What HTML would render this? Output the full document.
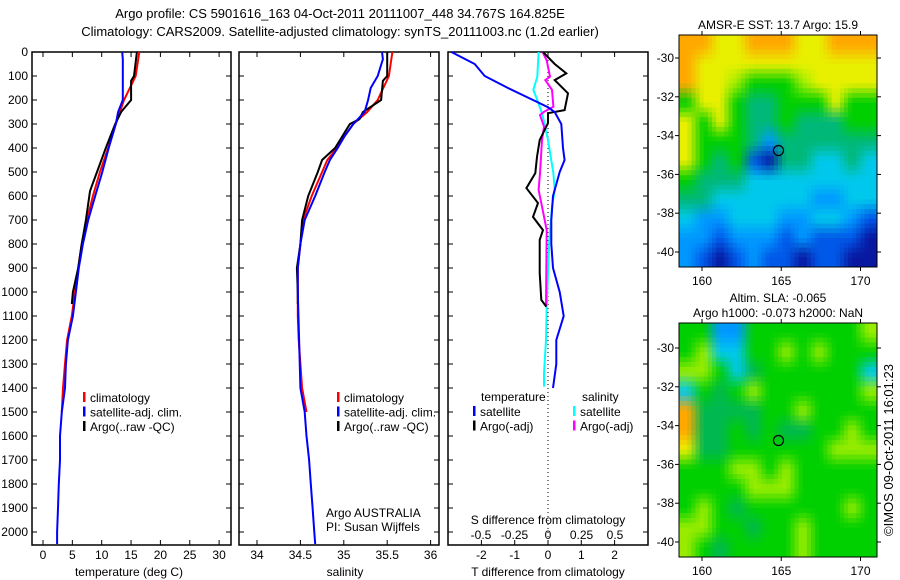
<!DOCTYPE html>
<html><head><meta charset="utf-8"><style>
html,body{margin:0;padding:0;background:#fff;}
svg{display:block;font-family:"Liberation Sans",sans-serif;}
</style></head><body>
<svg id="c" width="900" height="580" xmlns="http://www.w3.org/2000/svg">
<text x="340" y="18" font-size="13" text-anchor="middle">Argo profile: CS 5901616_163 04-Oct-2011 20111007_448 34.767S 164.825E</text>
<text x="340" y="36" font-size="13" text-anchor="middle">Climatology: CARS2009. Satellite-adjusted climatology: synTS_20111003.nc (1.2d earlier)</text>
<g id="g1"></g>
<g id="g2"></g>
<g id="g3"></g>
<g id="m1"></g>
<g id="m2"></g>
<text transform="translate(893,450) rotate(-90)" font-size="13" text-anchor="middle">©IMOS 09-Oct-2011 16:01:23</text>
</svg>
<script>
// ---- data ----
const tClimP=[0,100,200,250,300,400,500,600,700,800,900,1000,1100,1200,1300,1400,1500];
const tClimV=[16.4,15.8,13.8,13.1,12.4,11.1,9.7,8.5,7.5,6.6,6.0,5.45,4.9,4.1,3.75,3.4,3.2];
const tSatP=[0,30,200,250,300,400,500,600,700,800,900,1000,1100,1200,1300,1400,1500,1600,1700,1800,1900,2000,2050];
const tSatV=[13.5,13.6,13.6,12.8,12.4,11.2,10.1,8.9,7.7,6.8,6.1,5.6,5.1,4.25,3.9,3.75,3.2,2.9,2.9,2.7,2.55,2.4,2.4];
const tArgoP=[0,100,120,200,250,300,400,500,560,580,700,800,900,1000,1050];
const tArgoV=[16.0,15.5,15.0,15.0,13.3,12.3,10.7,9.2,8.3,8.0,7.3,6.6,6.0,5.1,4.9];
const sClimP=[0,100,200,250,300,350,400,450,500,600,700,800,900,1000,1100,1200,1300,1400,1500];
const sClimV=[35.56,35.52,35.39,35.27,35.11,35.01,34.92,34.81,34.75,34.63,34.53,34.5,34.47,34.47,34.47,34.48,34.5,34.52,34.57];
const sSatP=[0,30,100,150,200,250,300,350,400,450,500,600,700,800,900,1000,1400,1500,1600,1700,1800,1900,2000,2050];
const sSatV=[35.44,35.45,35.39,35.31,35.28,35.24,35.11,35.01,34.93,34.84,34.78,34.67,34.55,34.5,34.47,34.47,34.5,34.55,34.57,34.6,34.62,34.64,34.66,34.67];
const sArgoP=[0,100,120,200,250,280,300,400,450,500,600,700,800,900,1000,1050];
const sArgoV=[35.5,35.5,35.45,35.43,35.22,35.18,35.07,34.9,34.75,34.7,34.59,34.52,34.5,34.46,34.47,34.47];
const dTsatP=[0,50,100,150,200,230,250,300,400,450,500,600,700,800,900,1000,1100,1200,1300,1400];
const dTsatV=[-2.9,-2.2,-1.9,-1.2,-0.45,0,0.2,0.4,0.45,0.5,0.35,0.15,0.1,0.1,0.15,0.35,0.47,0.25,0.25,0.15];
const dTargoP=[0,50,89,117,172,242,255,296,367,437,505,567,629,687,742,783,921,1033,1061];
const dTargoV=[-0.15,0.2,0.55,0.2,0.6,0.5,0,0,-0.25,-0.33,-0.38,-0.65,-0.3,-0.45,-0.15,-0.25,-0.25,-0.2,-0.05];
const dSsatP=[0,103,158,200,263,367,506,575,644,783,922,1061,1200,1339,1394];
const dSsatV=[-0.07,-0.08,-0.11,-0.08,-0.04,0,0.04,0.05,0.03,0.01,0,-0.01,-0.015,-0.03,-0.03];
const dSargoP=[0,35,103,117,158,228,249,263,311,367,506,575,644,742,1061];
const dSargoV=[-0.04,-0.01,0.015,-0.02,0.03,0.04,-0.03,-0.06,-0.03,-0.045,-0.06,-0.07,-0.045,-0.01,-0.015];
const depthTicks=[0,100,200,300,400,500,600,700,800,900,1000,1100,1200,1300,1400,1500,1600,1700,1800,1900,2000];
const tTicks=[0,5,10,15,20,25,30];
const sTicks=[34,34.5,35,35.5,36];
const dtTicks=[-2,-1,0,1,2];
const dsTicks=[-0.5,-0.25,0,0.25,0.5];
const dsTickLabels=["-0.5","-0.25","0","0.25","0.5"];
const lonTicks=[160,165,170];
const latTicks=[-30,-32,-34,-36,-38,-40];
const sstGrid=["OOYYOOOYYOOO","OYYYYYYYYYYY","OYYLGGGLYYYY","GYYGTTGGGYGG","YGYGTTGTTTGG","YGGGTBTTTTTT","YGTGDNTTCCTC","GTTTCCCCCCCC","TTCCCCCCBBCC","CBBCCCBBCCBD","BBDBBBDBDDDN","BDNDBDDNDDNN"];
const slaGrid=["GGBBGGGGGGGL","GLCCGGLGLGGG","LLGCMGGGGGGC","CGMGLGGGGGGL","OMMMMGGLGGGG","OMMGMGMMGGLG","YMMGGGGGGLLL","GGGLLGLGGGGG","GGGGLLLGGGGG","GLGMGGGGGGLG","LLGGMGGLGGGG","LGMGGGGLGGGG"];
const argoLon=164.825, argoLat=-34.767;

const NS="http://www.w3.org/2000/svg";
function mk(p,tag,at,txt){const e=document.createElementNS(NS,tag);for(const k in at)e.setAttribute(k,at[k]);if(txt!==undefined)e.textContent=txt;p.appendChild(e);return e;}
const y=p=>52+0.24*p;
const xT=v=>43+5.87*v;
const xS=v=>257+86.8*(v-34);
const xDT=v=>548+33.3*v;
const xDS=v=>548+134*v;
const FS=12;

function frame(g,x0,x1,lbl){
  const r=mk(g,'rect',{x:x0,y:52,width:x1-x0,height:493,fill:'none',stroke:'#000','stroke-width':1.5});
  
  depthTicks.forEach(p=>{
    const t=mk(g,'line',{x1:x0,x2:x0+5,y1:y(p),y2:y(p),stroke:'#000'});
    
    const t2=mk(g,'line',{x1:x1-5,x2:x1,y1:y(p),y2:y(p),stroke:'#000'});
    
    if(lbl){const l=mk(g,'text',{x:28,y:y(p)+4,'font-size':FS,'text-anchor':'end'},String(p));
      }
  });
}
function xticks(g,ticks,fx,labels,ly,top){
  ticks.forEach((v,i)=>{
    const t=mk(g,'line',{x1:fx(v),x2:fx(v),y1:545,y2:540,stroke:'#000'});
    
    if(top){const t2=mk(g,'line',{x1:fx(v),x2:fx(v),y1:52,y2:57,stroke:'#000'});
      }
    const l=mk(g,'text',{x:fx(v),y:ly,'font-size':FS,'text-anchor':'middle'},labels?labels[i]:String(v));
    
  });
}
function line(g,P,V,fx,col,name){
  const pts=P.map((p,i)=>fx(V[i]).toFixed(1)+','+y(p).toFixed(1)).join(' ');
  const e=mk(g,'polyline',{points:pts,fill:'none',stroke:col,'stroke-width':2});
  
}
function legend(g,x,y0,items){
  items.forEach((it,i)=>{
    const yy=y0+i*14.5;
    const m=mk(g,'rect',{x:x,y:yy-10,width:2.5,height:10,fill:it[1]});
    
    const t=mk(g,'text',{x:x+7,y:yy,'font-size':FS},it[0]);
    
  });
}
// panel 1
const g1=document.getElementById('g1');
frame(g1,32,231,true);
xticks(g1,tTicks,xT,null,559,true);
mk(g1,'text',{x:129,y:576,'font-size':FS,'text-anchor':'middle',},'temperature (deg C)');
line(g1,tClimP,tClimV,xT,'#f00','climatology-temp-line');
line(g1,tArgoP,tArgoV,xT,'#000','argo-temp-line');
line(g1,tSatP,tSatV,xT,'#00f','satellite-temp-line');
legend(g1,83,402,[['climatology','#f00'],['satellite-adj. clim.','#00f'],['Argo(..raw -QC)','#000']]);
// panel 2
const g2=document.getElementById('g2');
frame(g2,239,439,false);
xticks(g2,sTicks,xS,null,559,true);
mk(g2,'text',{x:345,y:576,'font-size':FS,'text-anchor':'middle',},'salinity');
line(g2,sClimP,sClimV,xS,'#f00','climatology-salinity-line');
line(g2,sArgoP,sArgoV,xS,'#000','argo-salinity-line');
line(g2,sSatP,sSatV,xS,'#00f','satellite-salinity-line');
legend(g2,337,402,[['climatology','#f00'],['satellite-adj. clim.','#00f'],['Argo(..raw -QC)','#000']]);
mk(g2,'text',{x:326,y:517,'font-size':FS,},'Argo AUSTRALIA');
mk(g2,'text',{x:326,y:531,'font-size':FS,},'PI: Susan Wijffels');
// panel 3
const g3=document.getElementById('g3');
frame(g3,448,648,false);
xticks(g3,dtTicks,xDT,null,559,true);
dsTicks.forEach((v,i)=>{
  const l=mk(g3,'text',{x:xDS(v),y:539,'font-size':FS,'text-anchor':'middle'},dsTickLabels[i]);
  
});
mk(g3,'text',{x:548,y:524,'font-size':FS,'text-anchor':'middle',},'S difference from climatology');
mk(g3,'text',{x:548,y:576,'font-size':FS,'text-anchor':'middle',},'T difference from climatology');
mk(g3,'line',{x1:548,x2:548,y1:52,y2:545,stroke:'#000','stroke-dasharray':'1,3',});
line(g3,dSsatP,dSsatV,xDS,'#0ff','satellite-s-diff-line');
line(g3,dSargoP,dSargoV,xDS,'#f0f','argo-s-diff-line');
line(g3,dTargoP,dTargoV,xDT,'#000','argo-t-diff-line');
line(g3,dTsatP,dTsatV,xDT,'#00f','satellite-t-diff-line');
mk(g3,'text',{x:481,y:401,'font-size':FS,},'temperature');
mk(g3,'text',{x:582,y:401,'font-size':FS,},'salinity');
legend(g3,473,416,[['satellite','#00f'],['Argo(-adj)','#000']]);
legend(g3,573,416,[['satellite','#0ff'],['Argo(-adj)','#f0f']]);
// maps
const mcol={O:[255,168,0],Y:[232,240,0],L:[152,236,0],G:[0,208,0],T:[0,184,120],C:[0,200,236],B:[0,152,255],D:[0,88,232],N:[8,24,160],M:[0,184,80]};
function map(id,grid,top,bot,title){
  const g=document.getElementById(id);
  const x0=679,x1=877,lonX=v=>702+15.85*(v-160);
  const ly=v=> (id==='m1'? 58+19.4*(-30-v) : 348+19.4*(-30-v));
  const rows=grid.length,cols=grid[0].length,S=4;
  const R=rows*S,C=cols*S;
  const cw=(x1-x0)/C,ch=(bot-top)/R;
  const col=(r,c)=>mcol[grid[Math.max(0,Math.min(rows-1,r))][Math.max(0,Math.min(cols-1,c))]];
  for(let i=0;i<R;i++)for(let j=0;j<C;j++){
    const fy=(i+0.5)/S-0.5, fx=(j+0.5)/S-0.5;
    const r0=Math.floor(fy),c0=Math.floor(fx),ty=fy-r0,tx=fx-c0;
    const a=col(r0,c0),b=col(r0,c0+1),c=col(r0+1,c0),d=col(r0+1,c0+1);
    const rgb=[0,1,2].map(k=>Math.round(a[k]*(1-tx)*(1-ty)+b[k]*tx*(1-ty)+c[k]*(1-tx)*ty+d[k]*tx*ty));
    const e=mk(g,'rect',{x:(x0+j*cw).toFixed(2),y:(top+i*ch).toFixed(2),width:(cw+0.5).toFixed(2),height:(ch+0.5).toFixed(2),fill:'rgb('+rgb.join(',')+')'});
    
  }
  mk(g,'rect',{x:x0,y:top,width:x1-x0,height:bot-top,fill:'none',stroke:'#000','stroke-width':1,});
  lonTicks.forEach(v=>{
    const t=mk(g,'line',{x1:lonX(v),x2:lonX(v),y1:bot,y2:bot+4,stroke:'#000'});
    
    const t2=mk(g,'line',{x1:lonX(v),x2:lonX(v),y1:top-4,y2:top,stroke:'#000'});
    
    const l=mk(g,'text',{x:lonX(v),y:bot+18,'font-size':FS,'text-anchor':'middle'},String(v));
    
  });
  latTicks.forEach(v=>{
    const t=mk(g,'line',{x1:x0-4,x2:x0,y1:ly(v),y2:ly(v),stroke:'#000'});
    
    const t2=mk(g,'line',{x1:x1,x2:x1+4,y1:ly(v),y2:ly(v),stroke:'#000'});
    
    const l=mk(g,'text',{x:674,y:ly(v)+4,'font-size':FS,'text-anchor':'end'},String(v));
    
  });
  const m=mk(g,'circle',{cx:lonX(argoLon),cy:ly(argoLat),r:5,fill:'none',stroke:'#000','stroke-width':1.2});
  
  title.forEach((t,i)=>{
    const e=mk(g,'text',{x:778,y:top-(title.length-i)*15+9,'font-size':FS,'text-anchor':'middle'},t);
    
  });
}
map('m1',sstGrid,35,267,['AMSR-E SST: 13.7 Argo: 15.9']);
map('m2',slaGrid,323,557,['Altim. SLA: -0.065','Argo h1000: -0.073 h2000: NaN']);
</script>
</body></html>
